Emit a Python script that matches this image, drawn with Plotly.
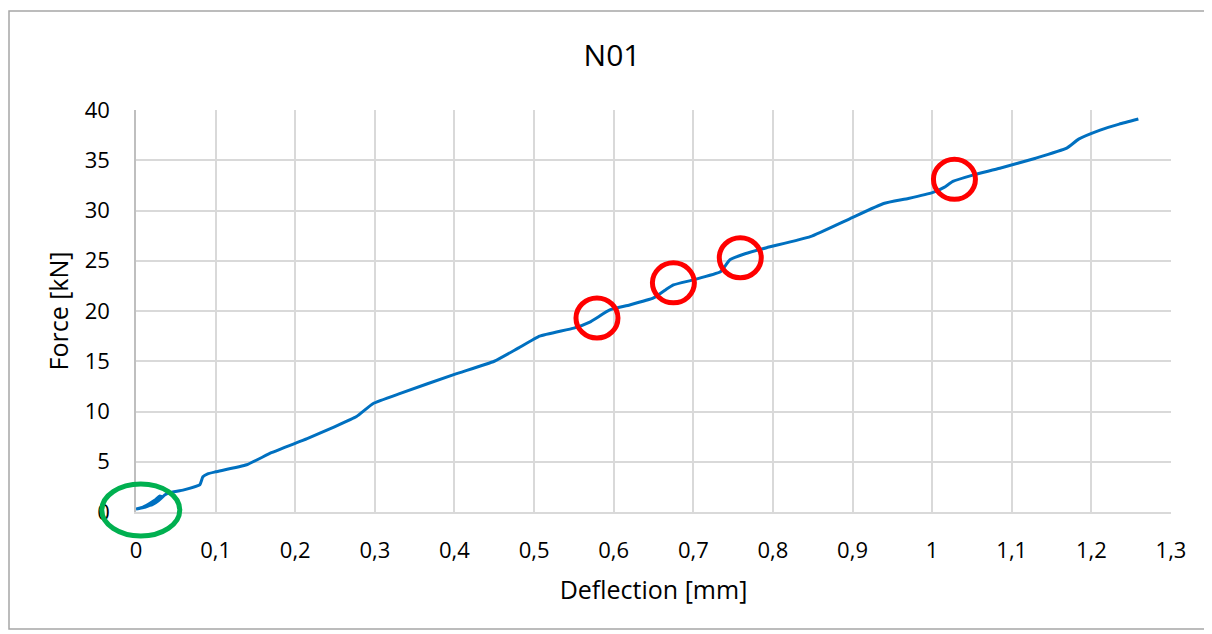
import plotly.graph_objects as go

# Deflection [mm] and Force [kN]
deflection = [0.0, 0.01, 0.02, 0.028, 0.033, 0.03, 0.024, 0.016, 0.006, 0.0, 0.012, 0.024, 0.032, 0.036, 0.042,
              0.06, 0.08, 0.084, 0.09, 0.1, 0.139, 0.17, 0.215, 0.25, 0.277, 0.298, 0.332,
              0.4, 0.45, 0.48, 0.507, 0.55, 0.57, 0.595, 0.62, 0.65, 0.665, 0.675, 0.7, 0.734,
              0.746, 0.765, 0.792, 0.847, 0.897, 0.939, 0.97, 1.001, 1.015, 1.026, 1.05,
              1.085, 1.13, 1.169, 1.184, 1.211, 1.235, 1.259]
force = [0.3, 0.5, 0.7, 1.1, 1.5, 1.6, 1.2, 0.8, 0.4, 0.3, 0.5, 0.9, 1.4, 1.7, 1.9,
         2.2, 2.7, 3.5, 3.8, 4.0, 4.7, 5.9, 7.3, 8.5, 9.5, 10.8, 11.8,
         13.7, 15.0, 16.3, 17.5, 18.3, 18.9, 20.1, 20.6, 21.3, 22.1, 22.6, 23.1, 23.9,
         25.1, 25.7, 26.3, 27.4, 29.2, 30.7, 31.2, 31.8, 32.3, 32.9, 33.5,
         34.2, 35.2, 36.2, 37.1, 38.0, 38.6, 39.1]

# highlighted points (red circles) and origin (green ellipse)
red_x = [0.579, 0.675, 0.759, 1.028]
red_y = [19.3, 22.8, 25.3, 33.1]
green_x = [0.006]
green_y = [0.2]

x_range = [0, 1.3]
y_range = [0, 40]

# page body has an 8px margin; figure sized to fit the window
W, H = 1204, 626
ml, mt = 128, 102
pw, ph = 1035, 402
mr = W - ml - pw
mb = H - mt - ph

fig = go.Figure()
fig.add_trace(go.Scatter(x=deflection, y=force, mode="lines",
                         line=dict(color="#0070c0", width=3, shape="spline", smoothing=0.4),
                         showlegend=False, hoverinfo="skip"))


def to_paper(xv, yv):
    px = (xv - x_range[0]) / (x_range[1] - x_range[0])
    py = (yv - y_range[0]) / (y_range[1] - y_range[0])
    return px, py


shapes = []
rx_px, ry_px = 21, 20
for cx, cy in zip(red_x, red_y):
    px, py = to_paper(cx, cy)
    shapes.append(dict(type="circle", xref="paper", yref="paper",
                       x0=px - rx_px / pw, x1=px + rx_px / pw,
                       y0=py - ry_px / ph, y1=py + ry_px / ph,
                       line=dict(color="#ff0000", width=5)))
for cx, cy in zip(green_x, green_y):
    px, py = to_paper(cx, cy)
    shapes.append(dict(type="circle", xref="paper", yref="paper",
                       x0=px - 39 / pw, x1=px + 39 / pw,
                       y0=py - 26 / ph, y1=py + 26 / ph,
                       line=dict(color="#00b050", width=5)))
# chart border (figure pixel coords -> paper)
bx0, bx1, by0, by1 = 1, 1197, 3, 621
shapes.append(dict(type="rect", xref="paper", yref="paper",
                   x0=(bx0 - ml) / pw, x1=(bx1 - ml) / pw,
                   y0=(mt + ph - by1) / ph, y1=(mt + ph - by0) / ph,
                   line=dict(color="#a6a6a6", width=1.5)))

font_family = "Open Sans, Liberation Sans, sans-serif"
fig.update_layout(
    width=W, height=H,
    margin=dict(l=ml, r=mr, t=mt, b=mb, autoexpand=False),
    paper_bgcolor="white", plot_bgcolor="white",
    separators=", ",
    title=dict(text="N01", x=(604 - ml) / pw, xref="paper", xanchor="center",
               y=1 - 47 / H, yanchor="middle",
               font=dict(family=font_family, size=30, color="#000000")),
    font=dict(family=font_family, color="#000000"),
    shapes=shapes,
    xaxis=dict(range=x_range, dtick=0.1, tick0=0, showgrid=True, gridcolor="#d9d9d9",
               gridwidth=1.5, zeroline=False, showline=True, linecolor="#d9d9d9", linewidth=1.5,
               ticks="", tickfont=dict(size=22, family=font_family), ticklabelstandoff=18,
               automargin=False,
               title=dict(text="Deflection [mm]", font=dict(size=25, family=font_family), standoff=18)),
    yaxis=dict(range=y_range, dtick=5, tick0=0, showgrid=True, gridcolor="#d9d9d9",
               gridwidth=1.5, zeroline=False, showline=True, linecolor="#bfbfbf", linewidth=1.5,
               ticks="", tickfont=dict(size=22, family=font_family), ticklabelstandoff=20,
               automargin=False,
               title=dict(text="Force [kN]", font=dict(size=25, family=font_family), standoff=9)),
)

fig.write_html("out.html")
